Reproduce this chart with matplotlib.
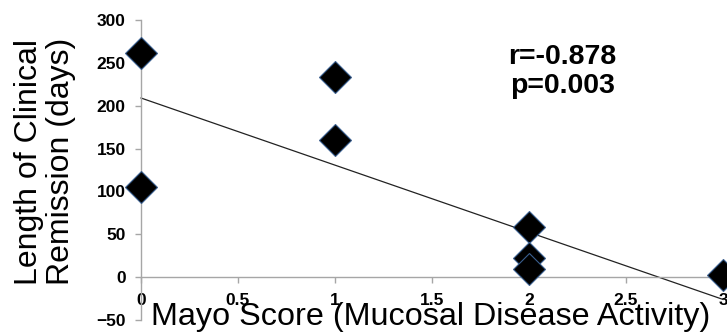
import numpy as np
import matplotlib
matplotlib.use("Agg")
import matplotlib.pyplot as plt

plt.rcParams['font.family'] = ['Liberation Sans', 'DejaVu Sans']

# data
mayo_score = [0, 0, 1, 1, 2, 2, 2, 3]
remission_days = [262, 105, 234, 160, 58, 22, 10, 3]
trend_x = [0, 3]
trend_y = [209, -26]
x_ticks = [0, 0.5, 1, 1.5, 2, 2.5, 3]
x_tick_labels = ['0', '0.5', '1', '1.5', '2', '2.5', '3']
y_ticks = [-50, 0, 50, 100, 150, 200, 250, 300]

grey = '#a6a6a6'

fig = plt.figure(figsize=(7.27, 3.36), dpi=100)
ax = fig.add_axes([141/727, 16/336, 582/727, 300/336])

ax.plot(trend_x, trend_y, color='#222222', lw=0.9, zorder=2, clip_on=False)
ax.plot(mayo_score, remission_days, 'D', ms=16.5, color='black',
        mec='#3a5f8f', mew=0.8, zorder=3, clip_on=False)

ax.set_xlim(0, 3)
ax.set_ylim(-50, 300)
ax.spines['top'].set_visible(False)
ax.spines['right'].set_visible(False)
ax.spines['bottom'].set_position(('data', 0))
for s in ('left', 'bottom'):
    ax.spines[s].set_color(grey)
    ax.spines[s].set_linewidth(1.0)

ax.set_xticks(x_ticks)
ax.set_xticklabels(x_tick_labels)
ax.set_yticks(y_ticks)
ax.tick_params(axis='y', direction='out', length=4, color=grey, width=1.0,
               pad=7, labelsize=12.5)
ax.tick_params(axis='x', direction='out', length=4.3, color=grey, width=1.0,
               pad=7, labelsize=12.5)
for lab in ax.get_xticklabels() + ax.get_yticklabels():
    lab.set_fontweight('bold')

fig.text(0.062, 0.519, 'Length of Clinical\nRemission (days)', rotation=90,
         ha='center', va='center', fontsize=23, linespacing=1.08)
fig.text(0.592, 0.033, 'Mayo Score (Mucosal Disease Activity)',
         ha='center', va='baseline', fontsize=23.3)
fig.text(0.774, 0.787, 'r=-0.878\np=0.003', ha='center', va='center',
         fontsize=20.5, fontweight='bold', linespacing=1.12)

fig.savefig('out.png', dpi=100)
